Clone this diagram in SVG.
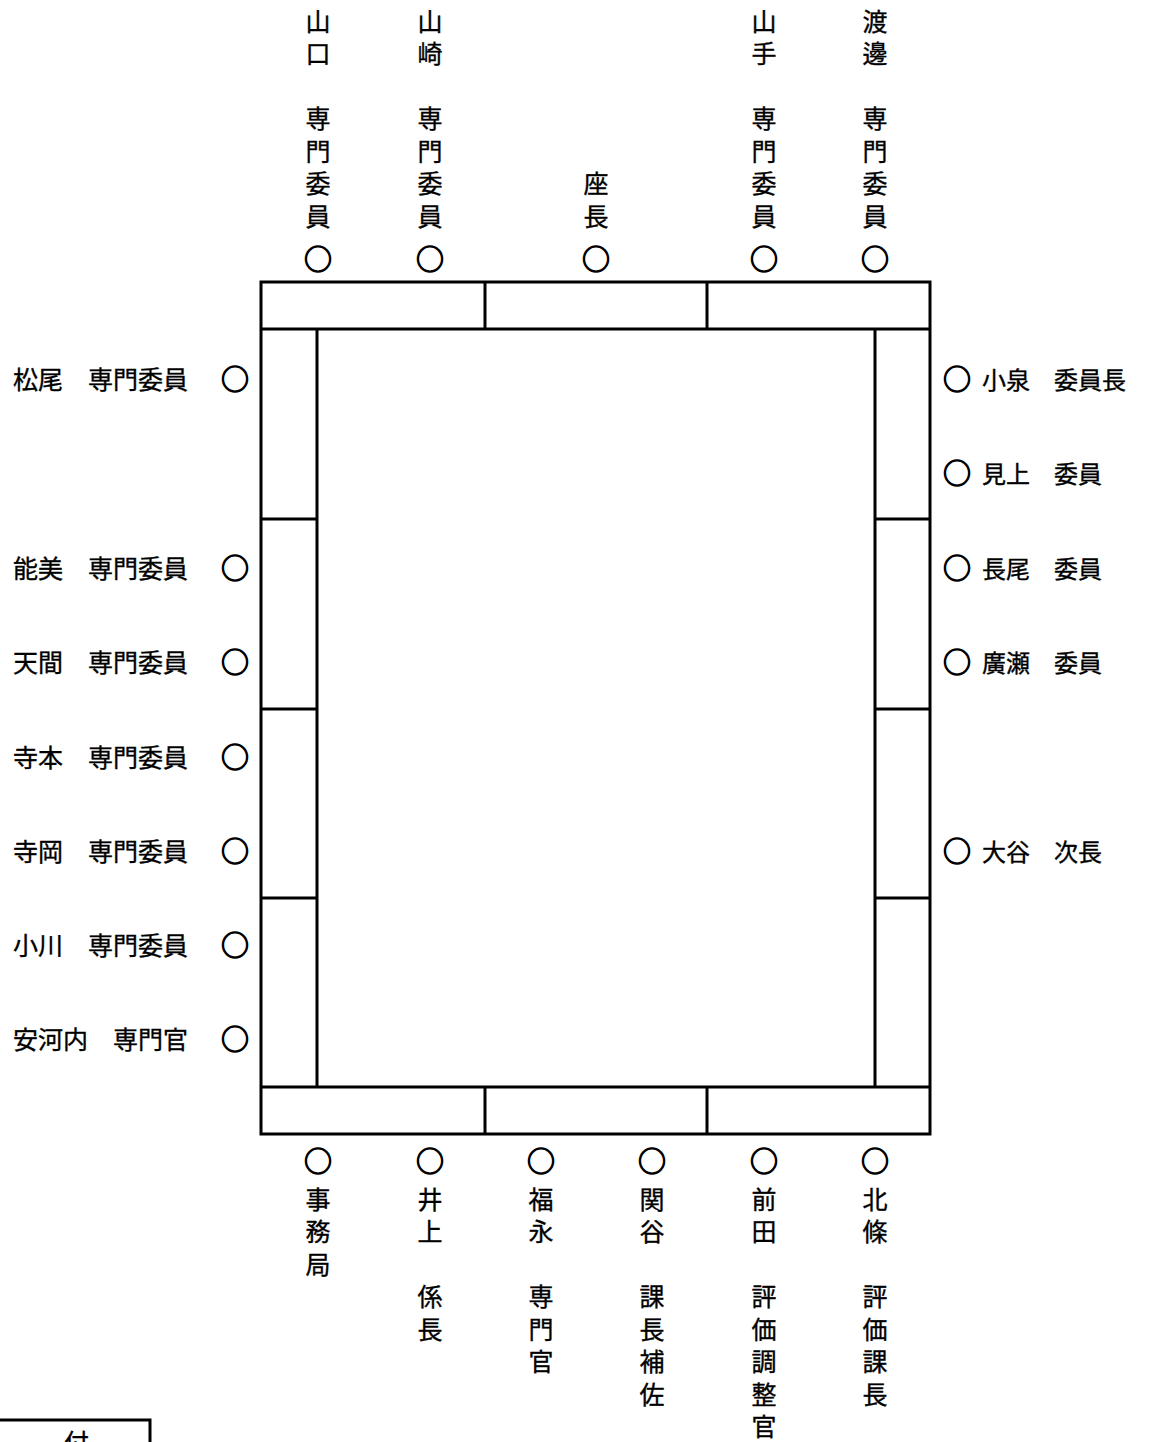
<svg xmlns="http://www.w3.org/2000/svg" width="1167" height="1442" viewBox="0 0 1167 1442">
<style>
text{font-family:"Noto Sans CJK JP","Noto Sans CJK SC",sans-serif;font-size:25px;fill:#000;stroke:#000;stroke-width:0.35;dominant-baseline:central}
.v{writing-mode:vertical-rl;letter-spacing:7.5px;dominant-baseline:auto}
.l{text-anchor:end}
.r{font-size:24px}
.seat{text-anchor:middle;font-size:28px;stroke-width:1.2}
.ln{stroke:#000;stroke-width:3;fill:none}
</style>
<rect width="1167" height="1442" fill="#fff"/>
<g id="table">
<rect class="ln" x="261" y="282" width="669" height="852"/>
<path class="ln" d="M261 329H930M261 1087H930M317 329V1087M875 329V1087M485 282V329M707 282V329M485 1087V1134M707 1087V1134M261 519H317M261 709H317M261 898H317M875 519H930M875 709H930M875 898H930"/>
</g>
<g id="connectors"></g>
<g id="top-yamaguchi"><text class="v" x="318" y="8.5">山口　専門委員</text><text class="seat" x="318" y="258">○</text></g>
<g id="top-yamazaki"><text class="v" x="430" y="8.5">山崎　専門委員</text><text class="seat" x="430" y="258">○</text></g>
<g id="top-chair"><text class="v" x="596" y="171">座長</text><text class="seat" x="596" y="258">○</text></g>
<g id="top-yamate"><text class="v" x="764" y="8.5">山手　専門委員</text><text class="seat" x="764" y="258">○</text></g>
<g id="top-watanabe"><text class="v" x="875" y="8.5">渡邊　専門委員</text><text class="seat" x="875" y="258">○</text></g>
<g id="left-matsuo"><text class="l" x="188" y="378">松尾　専門委員</text><text class="seat" x="235" y="378">○</text></g>
<g id="left-nomi"><text class="l" x="188" y="567">能美　専門委員</text><text class="seat" x="235" y="567">○</text></g>
<g id="left-amama"><text class="l" x="188" y="661">天間　専門委員</text><text class="seat" x="235" y="661">○</text></g>
<g id="left-teramoto"><text class="l" x="188" y="756">寺本　専門委員</text><text class="seat" x="235" y="756">○</text></g>
<g id="left-teraoka"><text class="l" x="188" y="850">寺岡　専門委員</text><text class="seat" x="235" y="850">○</text></g>
<g id="left-ogawa"><text class="l" x="188" y="944">小川　専門委員</text><text class="seat" x="235" y="944">○</text></g>
<g id="left-agouchi"><text class="l" x="188" y="1038">安河内　専門官</text><text class="seat" x="235" y="1038">○</text></g>
<g id="right-koizumi"><text class="seat" x="957" y="378">○</text><text class="r" x="982" y="378">小泉　委員長</text></g>
<g id="right-mikami"><text class="seat" x="957" y="472">○</text><text class="r" x="982" y="472">見上　委員</text></g>
<g id="right-nagao"><text class="seat" x="957" y="567">○</text><text class="r" x="982" y="567">長尾　委員</text></g>
<g id="right-hirose"><text class="seat" x="957" y="661">○</text><text class="r" x="982" y="661">廣瀬　委員</text></g>
<g id="right-otani"><text class="seat" x="957" y="850">○</text><text class="r" x="982" y="850">大谷　次長</text></g>
<g id="bottom-secretariat"><text class="seat" x="318" y="1160">○</text><text class="v" x="318" y="1186.5">事務局</text></g>
<g id="bottom-inoue"><text class="seat" x="430" y="1160">○</text><text class="v" x="430" y="1186.5">井上　係長</text></g>
<g id="bottom-fukunaga"><text class="seat" x="541" y="1160">○</text><text class="v" x="541" y="1186.5">福永　専門官</text></g>
<g id="bottom-sekiya"><text class="seat" x="652" y="1160">○</text><text class="v" x="652" y="1186.5">関谷　課長補佐</text></g>
<g id="bottom-maeda"><text class="seat" x="764" y="1160">○</text><text class="v" x="764" y="1186.5">前田　評価調整官</text></g>
<g id="bottom-hojo"><text class="seat" x="875" y="1160">○</text><text class="v" x="875" y="1186.5">北條　評価課長</text></g>
<g id="reception"><path class="ln" d="M-5 1420H150V1447"/><text x="64" y="1441">付</text></g>
</svg>
